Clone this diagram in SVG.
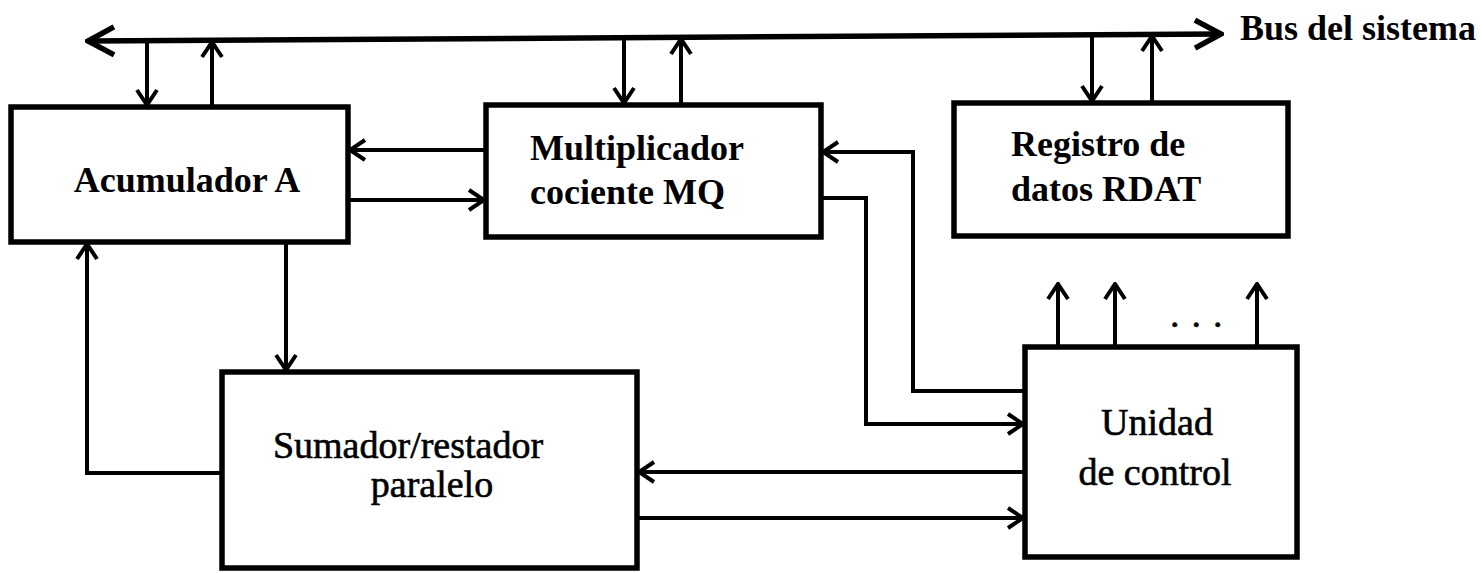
<svg xmlns="http://www.w3.org/2000/svg" width="1481" height="573" viewBox="0 0 1481 573">
<style>
.box{fill:#fff;stroke:#000;stroke-width:5.5}
.c{fill:none;stroke:#000;stroke-width:4}
.bus{fill:none;stroke:#000;stroke-width:5.5}
.b{font-family:"Liberation Serif",serif;font-weight:bold;font-size:36px;fill:#000}
.r{font-family:"Liberation Serif",serif;font-size:38px;fill:#000;stroke:#000;stroke-width:0.6}
</style>
<defs>
<marker id="ar" viewBox="-18 -12 20 24" markerWidth="20" markerHeight="24" refX="0" refY="0" orient="auto" markerUnits="userSpaceOnUse">
<path d="M-15,-10 L0,0 L-15,10" fill="none" stroke="#000" stroke-width="4"/>
</marker>
<marker id="bar" viewBox="-30 -17 33 34" markerWidth="33" markerHeight="34" refX="0" refY="0" orient="auto-start-reverse" markerUnits="userSpaceOnUse">
<path d="M-26,-14 L0,0 L-26,14" fill="none" stroke="#000" stroke-width="5.5"/>
</marker>
</defs>
<g id="connectors">
<line class="bus" x1="88" y1="41" x2="1221" y2="34" marker-start="url(#bar)" marker-end="url(#bar)"/>
<line class="c" x1="147" y1="41" x2="147" y2="105"  marker-end="url(#ar)"/>
<line class="c" x1="212" y1="105" x2="212" y2="42" marker-end="url(#ar)"/>
<line class="c" x1="624" y1="38" x2="624" y2="103" marker-end="url(#ar)"/>
<line class="c" x1="681" y1="103" x2="681" y2="39" marker-end="url(#ar)"/>
<line class="c" x1="1092" y1="35" x2="1092" y2="101" marker-end="url(#ar)"/>
<line class="c" x1="1152" y1="101" x2="1152" y2="36" marker-end="url(#ar)"/>
<line class="c" x1="486" y1="150" x2="350" y2="150" marker-end="url(#ar)"/>
<line class="c" x1="348" y1="200" x2="484" y2="200" marker-end="url(#ar)"/>
<line class="c" x1="286" y1="242" x2="286" y2="370" marker-end="url(#ar)"/>
<polyline class="c" points="222,473 87,473 87,244" marker-end="url(#ar)"/>
<polyline class="c" points="1025,391 913,391 913,152 823,152" marker-end="url(#ar)"/>
<polyline class="c" points="821,198 866,198 866,424 1023,424" marker-end="url(#ar)"/>
<line class="c" x1="1025" y1="472" x2="639" y2="472" marker-end="url(#ar)"/>
<line class="c" x1="637" y1="518" x2="1023" y2="518" marker-end="url(#ar)"/>
<line class="c" x1="1058" y1="347" x2="1058" y2="284" marker-end="url(#ar)"/>
<line class="c" x1="1115" y1="347" x2="1115" y2="284" marker-end="url(#ar)"/>
<line class="c" x1="1257" y1="347" x2="1257" y2="284" marker-end="url(#ar)"/>
</g>
<text class="b" x="1240" y="40">Bus del sistema</text>
<text class="r" x="1170" y="327" font-size="28" letter-spacing="12">...</text>
<g id="acumulador">
<rect class="box" x="11" y="107" width="337" height="135"/>
<text class="b" x="187" y="192" text-anchor="middle">Acumulador A</text>
</g>
<g id="mq">
<rect class="box" x="486" y="105" width="335" height="132"/>
<text class="b" x="530" y="160">Multiplicador</text>
<text class="b" x="530" y="204">cociente MQ</text>
</g>
<g id="rdat">
<rect class="box" x="954" y="103" width="334" height="133"/>
<text class="b" x="1011" y="156">Registro de</text>
<text class="b" x="1011" y="201">datos RDAT</text>
</g>
<g id="sumador">
<rect class="box" x="222" y="372" width="415" height="196"/>
<text class="r" x="408" y="458" text-anchor="middle">Sumador/restador</text>
<text class="r" x="432" y="497" text-anchor="middle">paralelo</text>
</g>
<g id="control">
<rect class="box" x="1025" y="347" width="272" height="210"/>
<text class="r" x="1157" y="435" text-anchor="middle">Unidad</text>
<text class="r" x="1155" y="485" text-anchor="middle">de control</text>
</g>
</svg>
